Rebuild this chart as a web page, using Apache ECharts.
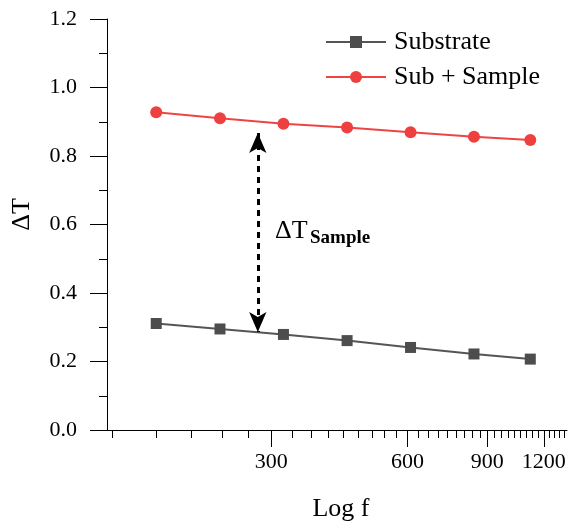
<!DOCTYPE html>
<html><head><meta charset="utf-8">
<script src="https://cdn.jsdelivr.net/npm/echarts@6/dist/echarts.min.js"></script>
<style>html,body{margin:0;padding:0;background:#fff}#c{width:568px;height:523px}</style>
</head><body><div id="c"></div>
<script>
// Data
const freq = [167, 231, 319, 441, 609, 841, 1120];
const substrate = [0.311, 0.295, 0.279, 0.261, 0.241, 0.222, 0.207];
const subSample = [0.928, 0.910, 0.894, 0.883, 0.869, 0.856, 0.847];
const xMajorTicks = [300, 600, 900, 1200];
const xMin = 130, xMax = 1350;
const yMin = 0, yMax = 1.2, yStep = 0.2;
const arrowF = 280, arrowTop = 0.867, arrowBottom = 0.286;
const seriesNames = ['Substrate', 'Sub + Sample'];

const xMinorTicks = [];
for (let k = 4; k <= 40; k++) { if (k % 9 !== 0) xMinorTicks.push(k * 100 / 3); }

const FONT = "Liberation Serif";
const chart = echarts.init(document.getElementById('c'), null, {renderer: 'canvas'});
const pairs = (ys) => freq.map((f, i) => [f, ys[i]]);

chart.setOption({
  animation: false,
  backgroundColor: '#fff',
  grid: {left: 107, right: 1, top: 19, bottom: 93, containLabel: false, outerBoundsMode: 'none'},
  legend: {
    orient: 'vertical', left: 320, top: 24, itemWidth: 60, itemHeight: 15, itemGap: 9,
    textStyle: {fontFamily: FONT, fontSize: 26, color: '#000', lineHeight: 26, padding: [0, 0, 0, 3]},
    data: seriesNames
  },
  xAxis: [{
    type: 'log', min: xMin, max: xMax,
    name: 'Log f', nameLocation: 'middle', nameGap: 66,
    nameTextStyle: {fontFamily: FONT, fontSize: 26, color: '#000', padding: [0, 0, 0, 8]},
    axisLine: {show: true, lineStyle: {color: '#000', width: 1}},
    axisTick: {show: true, inside: false, length: 17, customValues: xMajorTicks, lineStyle: {color: '#000', width: 1}},
    axisLabel: {customValues: xMajorTicks, margin: 21, fontFamily: FONT, fontSize: 22, color: '#000', formatter: v => String(Math.round(v))},
    splitLine: {show: false}, minorTick: {show: false}
  }, {
    type: 'log', min: xMin, max: xMax, position: 'bottom',
    axisLine: {show: false},
    axisTick: {show: true, inside: false, length: 8, customValues: xMinorTicks, lineStyle: {color: '#000', width: 1}},
    axisLabel: {show: false},
    splitLine: {show: false}
  }],
  yAxis: {
    type: 'value', min: yMin, max: yMax, interval: yStep,
    name: 'ΔT', nameLocation: 'middle', nameGap: 72,
    nameTextStyle: {fontFamily: FONT, fontSize: 26, color: '#000', padding: [0, 0, 0, 20]},
    axisLine: {show: true, lineStyle: {color: '#000', width: 1}},
    axisTick: {show: true, inside: false, length: 17, lineStyle: {color: '#000', width: 1}},
    minorTick: {show: true, splitNumber: 2, length: 8, lineStyle: {color: '#000', width: 1}},
    axisLabel: {margin: 30, fontFamily: FONT, fontSize: 22, color: '#000', formatter: v => v.toFixed(1)},
    splitLine: {show: false}
  },
  series: [{
    name: seriesNames[0], type: 'line', xAxisIndex: 0, data: pairs(substrate),
    symbol: 'rect', symbolSize: 11, showSymbol: true,
    lineStyle: {color: '#555555', width: 2}, itemStyle: {color: '#4d4d4d'},
    markLine: {
      silent: true, symbol: ['arrow', 'arrow'], symbolSize: [13, 20],
      label: {show: false},
      lineStyle: {color: '#000', width: 3, type: [6, 5]},
      data: [[{coord: [arrowF, arrowTop]}, {coord: [arrowF, arrowBottom]}]]
    }
  }, {
    name: seriesNames[1], type: 'line', xAxisIndex: 0, data: pairs(subSample),
    symbol: 'circle', symbolSize: 12, showSymbol: true,
    lineStyle: {color: '#ef4444', width: 2}, itemStyle: {color: '#ef4040'}
  }],
  graphic: [
    {type: 'text', left: 275, top: 218, style: {text: 'ΔT', fontFamily: FONT, fontSize: 26, fill: '#000'}},
    {type: 'text', left: 310, top: 229, style: {text: 'Sample', fontFamily: FONT, fontSize: 19, fontWeight: 'bold', fill: '#000'}}
  ]
});
</script></body></html>
